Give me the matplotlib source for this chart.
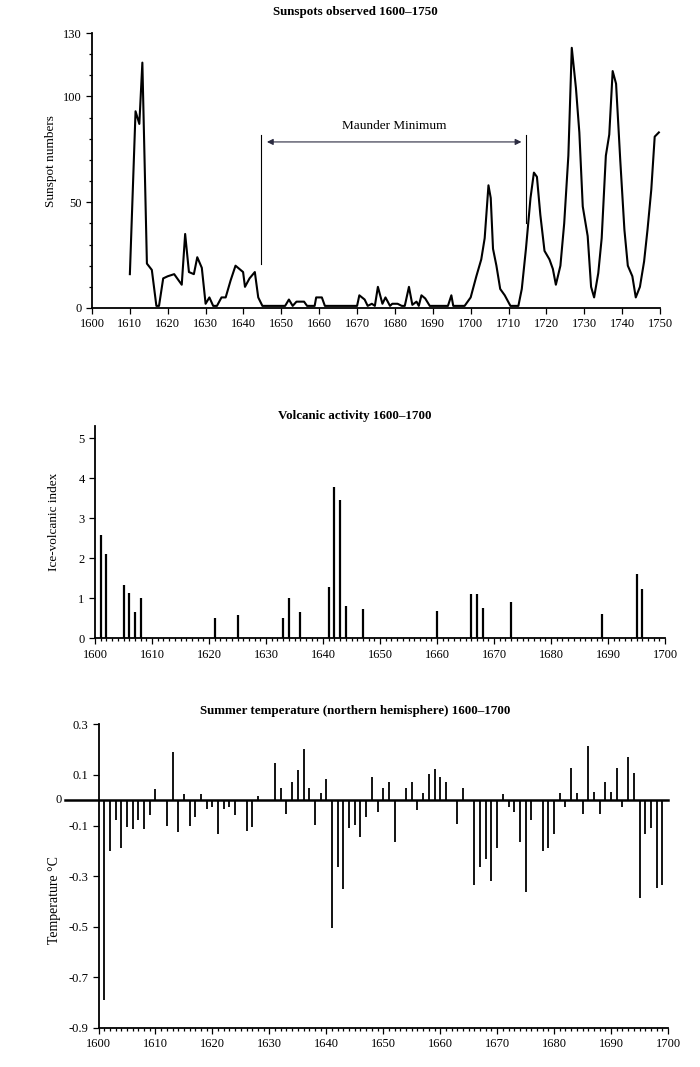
import matplotlib
matplotlib.use("Agg")
import matplotlib.pyplot as plt
from matplotlib.ticker import MultipleLocator

plt.rcParams['font.family'] = ['Liberation Serif', 'DejaVu Serif']

# Sunspot numbers
sun_years = [1610, 1611.5, 1612.5, 1613.3, 1614.5, 1615.8, 1617, 1617.7, 1618.8, 1620,
             1621.7, 1623.7, 1624.6, 1625.6, 1626.9, 1627.8, 1629, 1630, 1631, 1632,
             1633, 1634.2, 1635.3, 1636.6, 1637.9, 1639.9, 1640.4, 1641.6, 1643, 1643.9,
             1645, 1651, 1652, 1653, 1654, 1656, 1656.8, 1658.8, 1659.2, 1660.7,
             1661.5, 1670, 1670.6, 1672, 1672.8, 1673.9, 1674.7, 1675.5, 1676.7, 1677.5,
             1678.7, 1679.3, 1680.7, 1681.8, 1682.6, 1683.7, 1684.6, 1685.7, 1686.3, 1687,
             1688, 1689.2, 1694, 1694.9, 1695.4, 1698.4, 1700, 1701.5, 1702.8, 1703.7,
             1704.7, 1705.3, 1705.9, 1706.8, 1707.8, 1709, 1710.5, 1712.6, 1713.5, 1714.6,
             1715.8, 1716.7, 1717.5, 1718.4, 1719.5, 1720.8, 1721.7, 1722.5, 1723.7, 1724.7,
             1725.8, 1726.7, 1727.8, 1728.7, 1729.6, 1730.9, 1731.8, 1732.6, 1733.7, 1734.6,
             1735.7, 1736.6, 1737.5, 1738.4, 1739.5, 1740.6, 1741.5, 1742.7, 1743.6, 1744.7,
             1745.8, 1746.7, 1747.7, 1748.6, 1749.7]
sun_values = [16, 93, 87, 116, 21, 18, 1, 1, 14, 15,
              16, 11, 35, 17, 16, 24, 19, 2, 5, 1,
              1, 5, 5, 13, 20, 17, 10, 14, 17, 5,
              1, 1, 4, 1, 3, 3, 1, 1, 5, 5,
              1, 1, 6, 4, 1, 2, 1, 10, 2, 5,
              1, 2, 2, 1, 1, 10, 1.5, 3, 1, 6,
              4.5, 1, 1, 6, 1, 1, 5, 15, 23, 33,
              58, 52, 28, 20, 9, 6, 1, 1, 9, 28,
              52, 64, 62, 44, 27, 23, 18.5, 11, 20, 40,
              72, 123, 104, 83, 48, 34, 10, 5, 16.5, 33,
              72, 82, 112, 106, 70, 37, 20, 15, 5, 10,
              22, 37, 56, 81, 83]

# Ice-volcanic index
volc_years = [1601, 1602, 1605, 1606, 1607, 1608, 1621, 1625, 1633, 1634, 1636,
              1641, 1642, 1643, 1644, 1647, 1660, 1666, 1667, 1668, 1673, 1689,
              1695, 1696]
volc_values = [2.58, 2.1, 1.33, 1.14, 0.65, 1.0, 0.52, 0.59, 0.52, 1.0, 0.67,
               1.29, 3.79, 3.46, 0.81, 0.73, 0.68, 1.1, 1.1, 0.75, 0.9, 0.62,
               1.6, 1.24]

# Summer temperature anomaly (northern hemisphere)
temp_years = [1601, 1602, 1603, 1604, 1605, 1606, 1607, 1608, 1609, 1610,
              1612, 1613, 1614, 1615, 1616, 1617, 1618, 1619, 1620, 1621,
              1622, 1623, 1624, 1626, 1627, 1628, 1631, 1632, 1633, 1634,
              1635, 1636, 1637, 1638, 1639, 1640, 1641, 1642, 1643, 1644,
              1645, 1646, 1647, 1648, 1649, 1650, 1651, 1652, 1654, 1655,
              1656, 1657, 1658, 1659, 1660, 1661, 1663, 1664, 1666, 1667,
              1668, 1669, 1670, 1671, 1672, 1673, 1674, 1675, 1676, 1678,
              1679, 1680, 1681, 1682, 1683, 1684, 1685, 1686, 1687, 1688,
              1689, 1690, 1691, 1692, 1693, 1694, 1695, 1696, 1697, 1698,
              1699]
temp_values = [-0.79, -0.20, -0.078, -0.19, -0.105, -0.114, -0.078, -0.114, -0.059, 0.046,
               -0.103, 0.19, -0.127, 0.026, -0.10, -0.068, 0.026, -0.035, -0.026, -0.133,
               -0.035, -0.026, -0.058, -0.12, -0.105, 0.017, 0.148, 0.05, -0.055, 0.072,
               0.118, 0.204, 0.05, -0.097, 0.03, 0.082, -0.505, -0.264, -0.349, -0.11,
               -0.097, -0.144, -0.067, 0.093, -0.046, 0.048, 0.072, -0.166, 0.048, 0.072,
               -0.039, 0.029, 0.105, 0.124, 0.092, 0.072, -0.092, 0.048, -0.333, -0.265,
               -0.231, -0.32, -0.19, 0.026, -0.026, -0.046, -0.166, -0.362, -0.078, -0.2,
               -0.19, -0.135, 0.029, -0.026, 0.128, 0.03, -0.055, 0.216, 0.033, -0.055,
               0.072, 0.033, 0.128, -0.026, 0.17, 0.107, -0.388, -0.135, -0.111, -0.345,
               -0.336]

# zero gets its own long tick (the baseline), so it is labelled separately
temp_ticks = [0.3, 0.1, -0.1, -0.3, -0.5, -0.7, -0.9]
temp_ticklabels = ["0.3", "0.1", "-0.1", "-0.3", "-0.5", "-0.7", "-0.9"]

W, H = 700, 1067
fig = plt.figure(figsize=(W / 100, H / 100), dpi=100)


def rect(x0, y0, x1, y1):
    # pixel box (top-left origin) -> figure fraction
    return [x0 / W, 1 - y1 / H, (x1 - x0) / W, (y1 - y0) / H]


def style(ax):
    for s in ["top", "right"]:
        ax.spines[s].set_visible(False)
    for s in ["left", "bottom"]:
        ax.spines[s].set_linewidth(1.3)
    ax.tick_params(which="both", direction="out", labelsize=9, width=0.9, color="black")
    ax.tick_params(which="major", length=4)
    ax.tick_params(which="minor", length=2.5)


title_x = 355 / W
title_kw = dict(ha="center", va="center", fontsize=9.4, fontweight="bold")

# --- Sunspots ---
ax1 = fig.add_axes(rect(92, 33, 660, 308))
style(ax1)
ax1.plot(sun_years, sun_values, color="black", lw=1.5, clip_on=False)
ax1.set_xlim(1600, 1750)
ax1.set_ylim(0, 130)
ax1.set_xticks(range(1600, 1751, 10))
ax1.set_yticks([0, 50, 100, 130])
ax1.yaxis.set_minor_locator(MultipleLocator(10))
ax1.set_ylabel("Sunspot numbers", fontsize=9.5)
ax1.yaxis.set_label_coords(-0.0616, 0.535)
ax1.plot([1644.5, 1644.5], [21, 82], color="black", lw=0.8)
ax1.plot([1714.6, 1714.6], [40, 82], color="black", lw=0.8)
ax1.annotate("", xy=(1646.2, 78.5), xytext=(1713.4, 78.5),
             arrowprops=dict(arrowstyle="<|-|>", color="#2a2a40", lw=0.8,
                             mutation_scale=9, shrinkA=0, shrinkB=0))
ax1.text(1679.8, 83, "Maunder Minimum", ha="center", va="bottom", fontsize=9.5)
fig.text(title_x, 1 - 12 / H, "Sunspots observed 1600\u20131750", **title_kw)

# --- Volcanic activity ---
ax2 = fig.add_axes(rect(95, 426.3, 665, 638.3))
style(ax2)
ax2.vlines(volc_years, 0, volc_values, color="black", lw=1.6)
ax2.set_xlim(1600, 1700)
ax2.set_ylim(0, 5.3)
ax2.set_xticks(range(1600, 1701, 10))
ax2.xaxis.set_minor_locator(MultipleLocator(1))
ax2.set_yticks(range(0, 6))
ax2.set_ylabel("Ice-volcanic index", fontsize=9.5)
ax2.yaxis.set_label_coords(-0.0614, 0.549)
fig.text(title_x, 1 - 416 / H, "Volcanic activity 1600\u20131700", **title_kw)

# --- Summer temperature ---
ax3 = fig.add_axes(rect(98.5, 724.3, 668, 1028))
style(ax3)
ax3.vlines(temp_years, 0, temp_values, color="black", lw=1.3)
ax3.axhline(0, xmin=-0.058, xmax=1, color="black", lw=1.8, clip_on=False)
ax3.text(-0.064, 0, "0", transform=ax3.get_yaxis_transform(), ha="right", va="center",
         fontsize=9)
ax3.set_xlim(1600, 1700)
ax3.set_ylim(-0.9, 0.3)
ax3.set_xticks(range(1600, 1701, 10))
ax3.xaxis.set_minor_locator(MultipleLocator(1))
ax3.set_yticks(temp_ticks, temp_ticklabels)
ax3.set_ylabel("Temperature \u00b0C", fontsize=10)
ax3.yaxis.set_label_coords(-0.066, 0.421)
fig.text(title_x, 1 - 711 / H, "Summer temperature (northern hemisphere) 1600\u20131700",
         **title_kw)

plt.savefig("out.png", dpi=100)
